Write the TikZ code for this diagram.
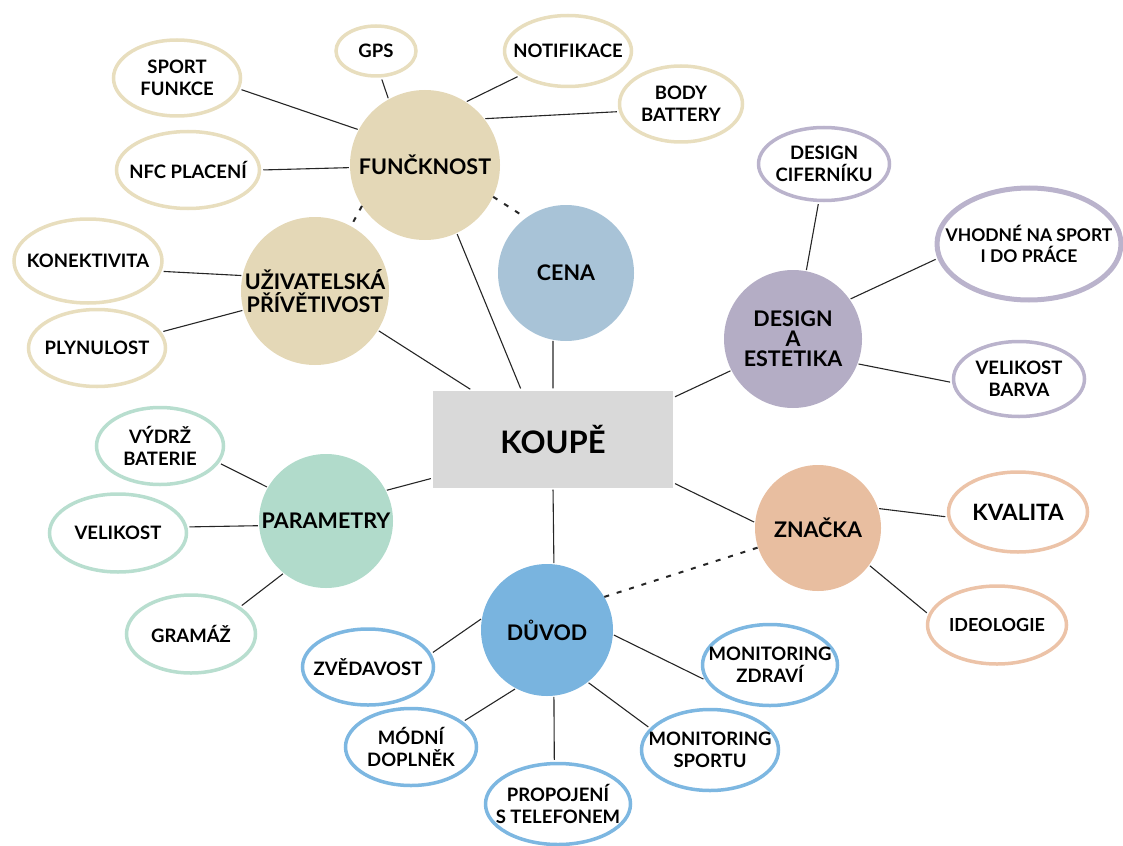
\documentclass[tikz,border=0pt]{standalone}
\usepackage{fontspec}
\setmainfont{Lato}
\usetikzlibrary{shapes.geometric}

\definecolor{beige}{HTML}{E4D8B7}
\definecolor{beigeln}{HTML}{E8DEBE}
\definecolor{cenablue}{HTML}{A8C3D7}
\definecolor{lavender}{HTML}{B4ADC5}
\definecolor{lavln}{HTML}{BAB3CC}
\definecolor{peach}{HTML}{E8BEA0}
\definecolor{peachln}{HTML}{ECC3A8}
\definecolor{skyblue}{HTML}{79B4DF}
\definecolor{skyln}{HTML}{7DB7E1}
\definecolor{mint}{HTML}{B1DBCB}
\definecolor{mintln}{HTML}{B8DECF}
\definecolor{koupegray}{HTML}{D9D9D9}

\begin{document}
\begin{tikzpicture}[x=1pt, y=-1pt,
  hub/.style={circle, fill=#1, inner sep=0pt, align=center, font=\bfseries\fontsize{21.5}{23}\selectfont},
  leaf/.style={ellipse, draw=#1, line width=3.5pt, fill=white, inner xsep=-28pt, inner ysep=-8pt, align=center, font=\bfseries\fontsize{18.5}{22}\selectfont},
  link/.style={line width=1.1pt, black!85, shorten <=2pt, shorten >=1pt},
  dlink/.style={line width=2pt, black!85, dash pattern=on 5pt off 8pt}
]
  \useasboundingbox (0,0) rectangle (1123,845);

  % hubs
  \node[fill=koupegray, minimum width=240pt, minimum height=97pt, font=\bfseries\fontsize{31}{34}\selectfont] (koupe) at (553,439) {KOUPĚ};
  \node[hub=beige, minimum size=150pt] (fun) at (425,165) {FUNČKNOST};
  \node[hub=cenablue, minimum size=136pt] (cena) at (566,273) {CENA};
  \node[hub=beige, minimum size=148pt] (uziv) at (315,291) {UŽIVATELSKÁ\\PŘÍVĚTIVOST};
  \node[hub=lavender, minimum size=138pt, font=\bfseries\fontsize{21.5}{20}\selectfont] (design) at (793,339) {DESIGN\\A\\ESTETIKA};
  \node[hub=peach, minimum size=126pt] (znacka) at (818,528) {ZNAČKA};
  \node[hub=skyblue, minimum size=132pt] (duvod) at (547,630) {DŮVOD};
  \node[hub=mint, minimum size=134pt] (param) at (326,521) {PARAMETRY};

  % funcknost
  \node[leaf=beigeln, minimum width=127pt, minimum height=76pt] (sport) at (177,78) {SPORT\\FUNKCE};
  \node[leaf=beigeln, minimum width=80pt, minimum height=50pt] (gps) at (376,51) {GPS};
  \node[leaf=beigeln, minimum width=127pt, minimum height=71pt] (notif) at (568,51) {NOTIFIKACE};
  \node[leaf=beigeln, minimum width=123pt, minimum height=76pt] (body) at (681,104) {BODY\\BATTERY};
  \node[leaf=beigeln, minimum width=143pt, minimum height=77pt] (nfc) at (188,170) {NFC PLACENÍ};
  % uzivatelska privetivost
  \node[leaf=beigeln, minimum width=148pt, minimum height=84pt] (konekt) at (88,261) {KONEKTIVITA};
  \node[leaf=beigeln, minimum width=137pt, minimum height=77pt] (plyn) at (97,348) {PLYNULOST};
  % design
  \node[leaf=lavln, minimum width=131pt, minimum height=73pt] (cifer) at (824,164) {DESIGN\\CIFERNÍKU};
  \node[leaf=lavln, line width=5pt, minimum width=184pt, minimum height=112pt, font=\bfseries\fontsize{17.5}{21}\selectfont] (vhodne) at (1029,244) {VHODNÉ NA SPORT\\I DO PRÁCE};
  \node[leaf=lavln, minimum width=131pt, minimum height=75pt] (velbarva) at (1019,379) {VELIKOST\\BARVA};
  % znacka
  \node[leaf=peachln, minimum width=139pt, minimum height=80pt, font=\bfseries\fontsize{22.5}{24}\selectfont] (kvalita) at (1018,512) {KVALITA};
  \node[leaf=peachln, minimum width=139pt, minimum height=78pt, font=\bfseries\fontsize{18}{20}\selectfont] (ideo) at (997,625) {IDEOLOGIE};
  % parametry
  \node[leaf=mintln, minimum width=127pt, minimum height=77pt] (vydrz) at (160,446) {VÝDRŽ\\BATERIE};
  \node[leaf=mintln, minimum width=137pt, minimum height=78pt] (velikost) at (118,533) {VELIKOST};
  \node[leaf=mintln, minimum width=129pt, minimum height=78pt] (gramaz) at (191,634) {GRAMÁŽ};
  % duvod
  \node[leaf=skyln, minimum width=131pt, minimum height=76pt] (zved) at (368,667) {ZVĚDAVOST};
  \node[leaf=skyln, minimum width=131pt, minimum height=77pt] (modni) at (411,747) {MÓDNÍ\\DOPLNĚK};
  \node[leaf=skyln, minimum width=145pt, minimum height=81pt] (propoj) at (558,804) {PROPOJENÍ\\S TELEFONEM};
  \node[leaf=skyln, minimum width=135pt, minimum height=81pt] (zdravi) at (770,665) {MONITORING\\ZDRAVÍ};
  \node[leaf=skyln, minimum width=137pt, minimum height=81pt] (sportu) at (710,750) {MONITORING\\SPORTU};

  % links to koupe
  \draw[link] (koupe.123) -- (fun.-65);
  \draw[link] (koupe.north) -- (cena.-101);
  \draw[link] (koupe.149) -- (uziv.-32);
  \draw[link] (koupe.19) -- (design.207);
  \draw[link] (koupe.-20) -- (znacka.175);
  \draw[link] (koupe.south) -- (duvod.84);
  \draw[link] (koupe.198) -- (param.27);

  % dashed
  \draw[dlink] (fun.-25) -- (cena.126);
  \draw[dlink] (fun.213) -- (uziv.61);
  \draw[dlink] (duvod.30) -- (znacka.198);

  % leaves
  \draw[link] (sport.-10) -- (fun.152);
  \draw[link] (gps.-79) -- (fun.119);
  \draw[link] (notif.207) -- (fun.57);
  \draw[link] (body.187) -- (fun.38);
  \draw[link] (nfc.0) -- (fun.182);
  \draw[link] (konekt.-8) -- (uziv.168);
  \draw[link] (plyn.14) -- (uziv.195);
  \draw[link] (cifer.-98) -- (design.79);
  \draw[link] (vhodne.189) -- (design.35);
  \draw[link] (velbarva.183) -- (design.-21);
  \draw[link] (kvalita.184) -- (znacka.18);
  \draw[link] (ideo.171) -- (znacka.-36);
  \draw[link] (vydrz.-16) -- (param.150);
  \draw[link] (velikost.5) -- (param.184);
  \draw[link] (gramaz.29) -- (param.231);
  \draw[link] (zved.12) -- (duvod.170);
  \draw[link] (modni.26) -- (duvod.242);
  \draw[link] (propoj.95) -- (duvod.-84);
  \draw[link] (zdravi.193) -- (duvod.-4);
  \draw[link] (sportu.160) -- (duvod.-52);
\end{tikzpicture}
\end{document}
